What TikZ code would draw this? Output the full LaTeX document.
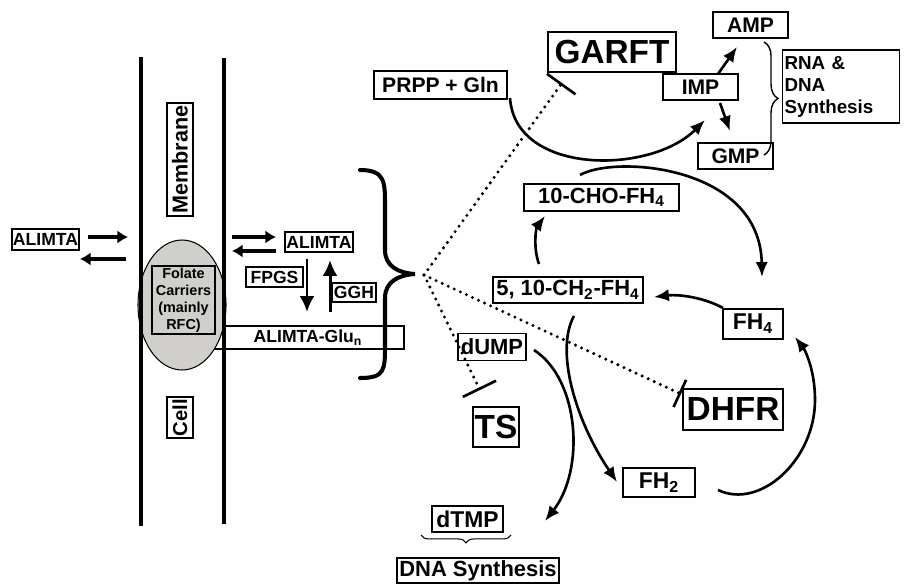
\documentclass[tikz,border=0pt]{standalone}
\usepackage{fontspec}
\setmainfont{Liberation Sans}
\usetikzlibrary{arrows.meta,shapes.geometric,decorations.pathreplacing}
\definecolor{carriergray}{RGB}{208,207,204}
\tikzset{
  box/.style={draw, line width=0.6pt, inner sep=0pt, align=center},
  sz/.style 2 args={minimum width=#1*0.02cm, minimum height=#2*0.02cm},
  fs/.style={font=\fontsize{#1}{#1}\selectfont\bfseries},
  wall/.style={line width=2.8pt},
  swap/.style={line width=2pt, -{Latex[length=6pt,width=7.5pt]}},
  poly/.style={line width=1.7pt, -{Latex[length=9pt,width=8.5pt]}},
  flow/.style={line width=1.5pt, -{Latex[length=8.5pt,width=7pt]}},
  inhib/.style={line width=1.9pt, line cap=round, dash pattern=on 0pt off 3.8pt,
    -{Bar[width=#1,line width=1.5pt]}},
}
\begin{document}
\begin{tikzpicture}[x=0.02cm,y=-0.02cm]
  \useasboundingbox (0,0) rectangle (908,584);

  % Cell membrane and folate carrier
  \node[box,sz={192}{23},fs=10] (glu) at (308,337.5) {ALIMTA-Glu\textsubscript{n}};
  \node[ellipse,draw,fill=carriergray,line width=0.6pt,sz={88}{130},inner sep=0pt] (carrier) at (182,305) {};
  \node[box,sz={63}{68},font=\fontsize{8.2}{9.7}\selectfont\bfseries] (folate) at (183.5,300) {Folate\\Carriers\\(mainly\\RFC)};
  \draw[wall] (141,57) -- (141,526);
  \draw[wall] (224,58) -- (224,524);
  \node[box,rotate=90,sz={113}{26},fs=12.3] (membrane) at (180,159.5) {Membrane};
  \node[box,rotate=90,sz={41}{26},fs=11.5] (cell) at (180,417.5) {Cell};

  % Transport in and out
  \node[box,sz={67}{21},fs=10] (alimtaOut) at (45.5,239.5) {ALIMTA};
  \node[box,sz={68}{20},fs=10] (alimtaIn) at (319,242) {ALIMTA};
  \coordinate (outInA) at (88,237);  \coordinate (outInB) at (128,237);
  \coordinate (outBackA) at (126,259); \coordinate (outBackB) at (80,259);
  \coordinate (inInA) at (232,237);  \coordinate (inInB) at (276,237);
  \coordinate (inBackA) at (276,251); \coordinate (inBackB) at (232,251);
  \draw[swap] (outInA) -- (outInB);
  \draw[swap] (outBackA) -- (outBackB);
  \draw[swap] (inInA) -- (inInB);
  \draw[swap] (inBackA) -- (inBackB);

  % Polyglutamation
  \node[box,sz={57}{20},fs=10] (fpgs) at (274.5,277) {FPGS};
  \node[box,sz={44}{19},fs=10] (ggh) at (354,292.5) {GGH};
  \coordinate (fpgsA) at (307,259); \coordinate (fpgsB) at (307,312);
  \coordinate (gghA) at (330,312);  \coordinate (gghB) at (330,260);
  \draw[poly] (fpgsA) -- (fpgsB);
  \draw[poly] (gghA) -- (gghB);

  % Big brace
  \draw[line width=2.3pt,line cap=round] (360,170) .. controls (385,170) and (385,182) .. (385,205)
    -- (385,250) .. controls (385,266) and (398,273) .. (415,274)
    .. controls (398,275) and (385,282) .. (385,298)
    -- (385,345) .. controls (385,370) and (385,378) .. (360,378);
  \coordinate (hub) at (424,275);

  % Purine synthesis
  \node[box,sz={128}{40},fs=19] (garft) at (612,52) {GARFT};
  \node[box,sz={133}{28},fs=12] (prpp) at (440.5,85) {PRPP + Gln};
  \node[box,sz={75}{26},fs=12] (amp) at (750.5,25) {AMP};
  \node[box,sz={75}{26},fs=12] (imp) at (700.5,87) {IMP};
  \node[box,sz={75}{26},fs=12] (gmp) at (735.5,156) {GMP};
  \node[draw,line width=0.6pt,inner sep=1pt,text width=2.26cm,align=left,minimum height=1.46cm,
    font=\fontsize{10.7}{12.5}\selectfont\bfseries] (rna) at (841,86.5) {RNA \&\\DNA\\Synthesis};
  \draw[decorate,decoration={brace,amplitude=8pt},line width=0.8pt] (764,42) -- (764,155);
  \coordinate (impUp) at (718,74);   \coordinate (ampIn) at (737,47);
  \coordinate (impDown) at (720,103); \coordinate (gmpIn) at (730,131);
  \draw[flow] (impUp) -- (ampIn);
  \draw[flow] (impDown) -- (gmpIn);

  % Folate cycle
  \node[box,sz={155}{27},fs=12.5] (cho) at (601.5,197.5) {10-CHO-FH\textsubscript{4}};
  \node[box,sz={150}{26},fs=12.5] (ch2) at (568,290) {5, 10-CH\textsubscript{2}-FH\textsubscript{4}};
  \node[box,sz={60}{30},fs=13] (fh4) at (753,324) {FH\textsubscript{4}};
  \node[box,sz={72}{29},fs=13] (fh2) at (659,482.5) {FH\textsubscript{2}};
  \node[box,sz={100}{41},fs=19] (dhfr) at (733,409.5) {DHFR};

  % Thymidylate synthesis
  \node[box,sz={68}{27},fs=12.5] (dump) at (492,347) {dUMP};
  \node[box,sz={46}{40},fs=19] (ts) at (496,427) {TS};
  \node[box,sz={71}{26},fs=13] (dtmp) at (467.5,519) {dTMP};
  \node[box,sz={162}{25},fs=12.5] (dna) at (478,570.5) {DNA Synthesis};
  \draw[decorate,decoration={brace,amplitude=4.5pt},line width=0.6pt] (511,535) -- (421,535);

  % Curved reactions
  \coordinate (prppOut) at (510,98);  \coordinate (impIn) at (705,120);
  \coordinate (choOut) at (580,175);  \coordinate (fh4In) at (762,277);
  \coordinate (ch2Up) at (539,264);   \coordinate (choIn) at (545,216);
  \coordinate (fh4Out) at (723,308);  \coordinate (ch2In) at (654,297);
  \coordinate (dumpOut) at (534,350); \coordinate (dtmpIn) at (545,521);
  \coordinate (ch2Down) at (574,316); \coordinate (fh2In) at (617,482);
  \coordinate (fh2Out) at (718,490);  \coordinate (fh4Back) at (795,337);
  \draw[flow] (prppOut) .. controls (515,175) and (650,175) .. (impIn);
  \draw[flow] (choOut) .. controls (615,155) and (760,165) .. (fh4In);
  \draw[flow] (ch2Up) .. controls (533,248) and (536,228) .. (choIn);
  \draw[flow] (fh4Out) .. controls (705,298) and (680,294) .. (ch2In);
  \draw[flow] (dumpOut) .. controls (580,380) and (585,470) .. (dtmpIn);
  \draw[flow] (ch2Down) .. controls (555,350) and (575,420) .. (fh2In);
  \draw[flow] (fh2Out) .. controls (760,510) and (815,460) .. (815,400)
    .. controls (815,370) and (805,350) .. (fh4Back);

  % Inhibition
  \coordinate (garftBar) at (562,83);
  \coordinate (tsBar) at (480,390);
  \coordinate (dhfrBar) at (681,394);
  \draw[inhib=20pt] (hub) -- (garftBar);
  \draw[inhib=21pt] (hub) -- (tsBar);
  \draw[inhib=17pt] (hub) -- (dhfrBar);
\end{tikzpicture}
\end{document}
